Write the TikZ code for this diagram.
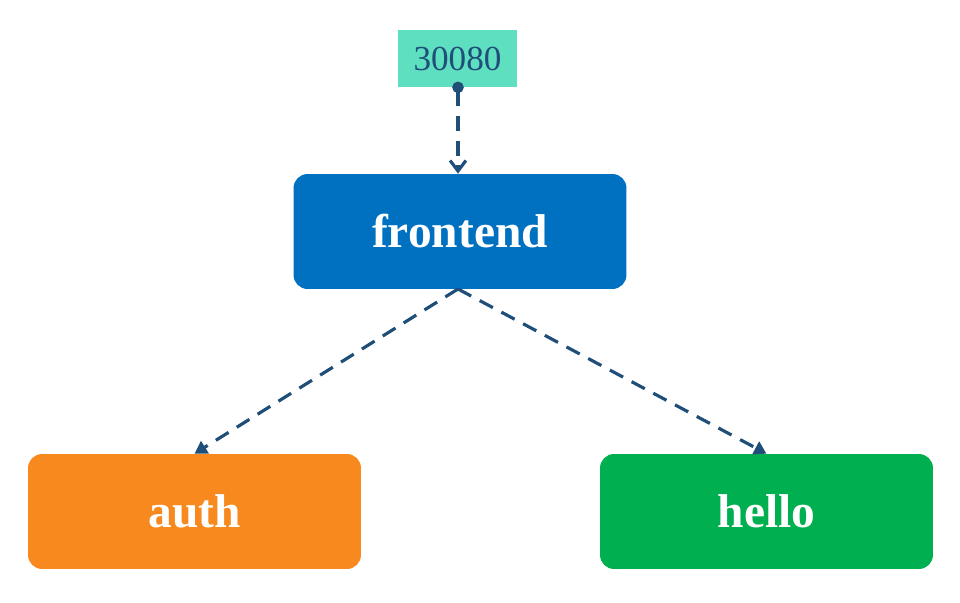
\documentclass[tikz,border=0pt]{standalone}
\usepackage{fontspec}
\setmainfont{Liberation Serif}
\usetikzlibrary{arrows.meta}
\definecolor{portfill}{HTML}{5EE0C0}
\definecolor{linkblue}{HTML}{1F4E79}
\definecolor{svcblue}{HTML}{0070C0}
\definecolor{svcorange}{HTML}{F7891F}
\definecolor{svcgreen}{HTML}{00B050}
\tikzset{
  svc/.style={rounded corners=8pt, minimum width=6.66cm, minimum height=2.3cm,
    text=white, font=\fontsize{27}{30}\selectfont\bfseries, inner sep=0pt},
  portbox/.style={fill=portfill, minimum width=2.38cm, minimum height=1.14cm,
    text=linkblue, font=\fontsize{20}{22}\selectfont, inner sep=0pt},
  link/.style={draw=linkblue, line width=1.8pt, dash pattern=on 8.5pt off 5.5pt},
}
\begin{document}
\begin{tikzpicture}[x=0.02cm, y=-0.02cm]
  \useasboundingbox (0,0) rectangle (960,602);
  \node[portbox] (port) at (457.5,58.5) {30080};
  \node[svc, fill=svcblue] (frontend) at (460,231.5) {frontend};
  \node[svc, fill=svcorange] (auth) at (194.5,511.5) {auth};
  \node[svc, fill=svcgreen] (hello) at (766.5,511.5) {hello};
  \coordinate (fbot) at (458,289);
  % the dot sits centred on the lower edge of the port box
  \draw[link, {Circle[length=6.5pt]}-{Straight Barb[length=6pt, width=9pt]}]
    ([yshift=3.25pt]port.south -| fbot) -- (frontend.north -| fbot);
  \draw[link, -{Triangle[length=7pt, width=8pt]}] (fbot) -- (auth.north);
  \draw[link, -{Triangle[length=7pt, width=8pt]}] (fbot) -- (hello.north);
\end{tikzpicture}
\end{document}
